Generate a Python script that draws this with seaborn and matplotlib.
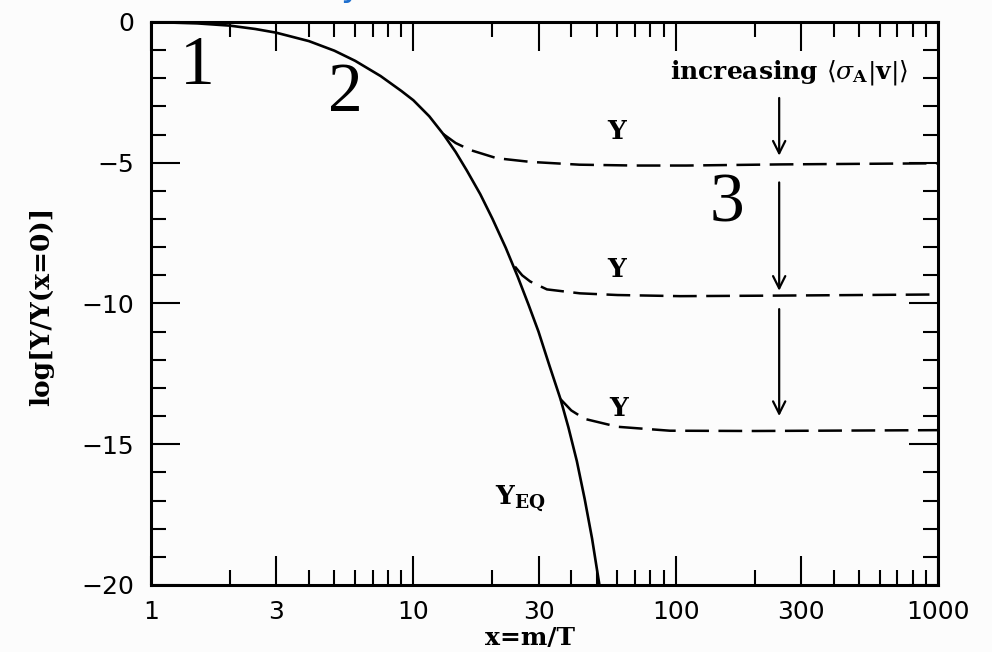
import numpy as np
import pandas as pd
import matplotlib
matplotlib.use("Agg")
import matplotlib.pyplot as plt
from matplotlib.ticker import FixedLocator, NullFormatter
import seaborn as sns

# ---------------- data ----------------
# Equilibrium abundance Y_EQ (solid)
eq_x = [1.0, 1.5, 2.0, 2.5, 3.0, 4.0, 5.0, 6.0, 7.5, 9.0, 10.0, 11.5, 13.0,
        14.5, 16.0, 18.0, 20.0, 22.5, 25.0, 27.5, 30.0, 33.0, 36.4, 39.0,
        42.0, 45.0, 48.0, 51.2]
eq_y = [0.0, -0.05, -0.13, -0.25, -0.38, -0.68, -1.02, -1.38, -1.92, -2.45,
        -2.78, -3.35, -3.98, -4.62, -5.28, -6.12, -6.98, -8.02, -9.05, -10.05,
        -11.0, -12.2, -13.4, -14.4, -15.6, -16.95, -18.35, -20.0]

# Frozen-out abundances Y (dashed), three annihilation cross sections
y1_x = [13.0, 14.5, 16.5, 20.8, 27.9, 43.0, 70.0, 110.0, 250.0, 1000.0]
y1_y = [-3.98, -4.3, -4.55, -4.84, -4.97, -5.07, -5.10, -5.10, -5.06, -5.02]

y2_x = [24.4, 26.0, 27.9, 32.3, 43.2, 60.0, 104.0, 250.0, 1000.0]
y2_y = [-8.69, -9.0, -9.22, -9.5, -9.64, -9.7, -9.74, -9.72, -9.68]

y3_x = [36.4, 40.0, 45.0, 60.0, 95.0, 200.0, 1000.0]
y3_y = [-13.4, -13.8, -14.1, -14.38, -14.52, -14.53, -14.5]

# arrows ("increasing <sigma_A |v|>") : x position, start, end
arrow_x = 248.0
arrow_from = [-2.7, -5.7, -10.2]
arrow_to = [-4.75, -9.55, -14.0]

x_major = [1, 3, 10, 30, 100, 300, 1000]
x_major_labels = ["1", "3", "10", "30", "100", "300", "1000"]
x_minor = [2, 4, 5, 6, 7, 8, 9, 20, 40, 50, 60, 70, 80, 90,
           200, 400, 500, 600, 700, 800, 900]
y_major = [0, -5, -10, -15, -20]
y_minor = [v for v in range(-19, 0) if v % 5 != 0]

# ---------------- styling ----------------
sns.set_theme(style="ticks")
plt.rcParams["font.family"] = ["DejaVu Sans"]
plt.rcParams["mathtext.fontset"] = "dejavuserif"
plt.rcParams["text.color"] = "black"
plt.rcParams["axes.labelcolor"] = "black"
plt.rcParams["xtick.color"] = "black"
plt.rcParams["ytick.color"] = "black"

fig = plt.figure(figsize=(9.92, 6.52), dpi=100, facecolor="#fcfcfc")
ax = fig.add_axes([0.1522, 0.1028, 0.9456 - 0.1522, 0.9663 - 0.1028])
ax.set_facecolor("#fcfcfc")

df_eq = pd.DataFrame({"x": eq_x, "y": eq_y})
sns.lineplot(data=df_eq, x="x", y="y", ax=ax, color="black", linewidth=1.9,
             sort=False, estimator=None)

for xs, ys in [(y1_x, y1_y), (y2_x, y2_y), (y3_x, y3_y)]:
    d = pd.DataFrame({"x": xs, "y": ys})
    sns.lineplot(data=d, x="x", y="y", ax=ax, color="black", linewidth=1.8,
                 sort=False, estimator=None)
    ax.lines[-1].set_dashes([9.5, 3.8])

ax.set_xscale("log")
ax.set_xlim(1, 1000)
ax.set_ylim(-20, 0)

ax.xaxis.set_major_locator(FixedLocator(x_major))
ax.set_xticklabels(x_major_labels)
ax.xaxis.set_minor_locator(FixedLocator(x_minor))
ax.xaxis.set_minor_formatter(NullFormatter())
ax.yaxis.set_major_locator(FixedLocator(y_major))
ax.yaxis.set_minor_locator(FixedLocator(y_minor))

ax.tick_params(which="both", direction="in", top=True, right=True,
               colors="black", labelcolor="black", width=1.5)
ax.tick_params(which="major", length=21)
ax.tick_params(which="minor", length=11)
ax.tick_params(axis="x", which="major", pad=11, labelsize=18)
ax.tick_params(axis="y", which="major", pad=12, labelsize=18)

for s in ax.spines.values():
    s.set_visible(True)
    s.set_linewidth(2.2)
    s.set_color("black")

serif = "DejaVu Serif"
ax.set_xlabel("x=m/T", family=serif, fontsize=18, fontweight="bold",
              color="black", va="center")
ax.set_ylabel("log[Y/Y(x=0)]", family=serif, fontsize=19, fontweight="bold",
              color="black", va="center")
ax.xaxis.set_label_coords(0.4816, -0.094)
ax.yaxis.set_label_coords(-0.1385, 0.4956)

# arrows
for a0, a1 in zip(arrow_from, arrow_to):
    ax.annotate("", xy=(arrow_x, a1), xytext=(arrow_x, a0),
                arrowprops=dict(arrowstyle="->", lw=1.6, color="black",
                                mutation_scale=22, shrinkA=0, shrinkB=0))

# labels on the curves
ax.text(770, -1.78, r"increasing $\langle\sigma_{\mathbf{A}}|\mathbf{v}|\rangle$",
        family=serif, fontweight="bold", fontsize=18, ha="right", va="center",
        color="black")
for lx, ly in [(59.6, -3.9), (59.6, -8.81), (60.5, -13.72)]:
    ax.text(lx, ly, "Y", family=serif, fontweight="bold", fontsize=19,
            ha="center", va="center", color="black")
ax.text(25.5, -16.95, r"$\mathbf{Y}_{\mathbf{EQ}}$", fontsize=19,
        ha="center", va="center", color="black")

# big region numbers
times = "Liberation Serif"
for nx, ny, s in [(1.50, -1.6, "1"), (5.49, -2.57, "2"), (156.6, -6.5, "3")]:
    ax.text(nx, ny, s, family=times, fontsize=50, ha="center", va="center",
            color="black")

# cropped blue glyph at the top edge of the scan
fig.text(352 / 992, 1 + 4 / 652, "y", color="#1f70cf", fontsize=26,
         ha="center", va="baseline")

fig.savefig("out.png", dpi=100, facecolor=fig.get_facecolor())
